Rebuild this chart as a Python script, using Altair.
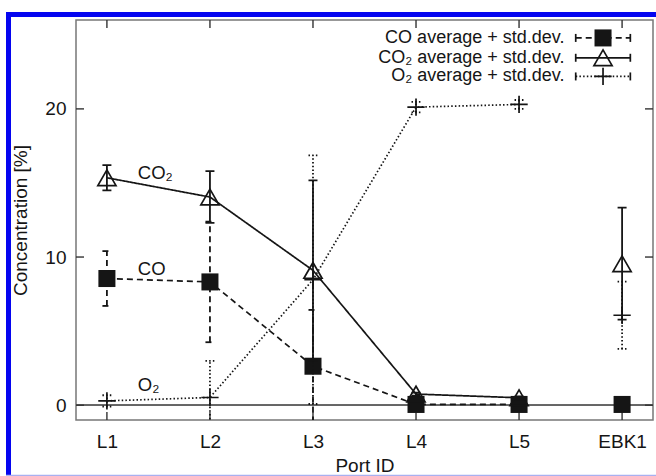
import altair as alt
import pandas as pd

# ---------------- data ----------------
ports = ["L1", "L2", "L3", "L4", "L5", "EBK1"]
pos = [1, 2, 3, 4, 5, 6]
co_mean = [8.55, 8.32, 2.63, 0.05, 0.05, 0.05]
co_std = [1.85, 4.07, 3.8, 0.0, 0.0, 0.0]
co2_mean = [15.35, 14.05, 9.1, 0.75, 0.5, 9.55]
co2_std = [0.85, 1.75, 6.07, 0.1, 0.1, 3.78]
o2_mean = [0.29, 0.52, 8.47, 20.12, 20.3, 6.07]
o2_std = [0.38, 2.47, 8.39, 0.35, 0.3, 2.27]
connected_ports = ["L1", "L2", "L3", "L4", "L5"]

series_names = ["CO", "CO2", "O2"]
legend_labels = ["CO average + std.dev.", "CO\u2082 average + std.dev.", "O\u2082 average + std.dev."]
annot_text = ["CO\u2082", "CO", "O\u2082"]
annot_x = [1.30, 1.30, 1.30]
annot_y = [15.7, 9.17, 1.37]
legend_rows = [24.79, 23.45, 22.19]

y_ticks = [0, 10, 20]
x_domain = [0.7, 6.3]
y_domain = [-1, 26]

FONT = "Liberation Sans"
INK = "#151515"

means = {"CO": co_mean, "CO2": co2_mean, "O2": o2_mean}
stds = {"CO": co_std, "CO2": co2_std, "O2": o2_std}
dashes = {"CO": [6, 4], "CO2": [1, 0], "O2": [1.5, 2.2]}

xs = alt.Scale(domain=x_domain, nice=False, zero=False)
ys = alt.Scale(domain=y_domain, nice=False, zero=False)

label_expr = "[" + ",".join("'%s'" % p for p in ports) + "][datum.value-1]"

X_AXIS = alt.Axis(values=pos, labelExpr=label_expr, tickSize=0, domain=False,
                  grid=False, labelFontSize=19, labelFont=FONT, labelColor=INK,
                  labelPadding=12, titleFont=FONT, titleFontSize=19,
                  titleFontWeight="normal", titleColor=INK, titlePadding=5)
Y_AXIS = alt.Axis(values=y_ticks, tickSize=0, domain=False, grid=False,
                  labelFontSize=19, labelFont=FONT, labelColor=INK, labelPadding=10,
                  titleFont=FONT, titleFontSize=19, titleFontWeight="normal",
                  titleColor=INK, titlePadding=14)


def X(field):
    return alt.X(field, scale=xs, axis=X_AXIS, title="Port ID")


def Y(field):
    return alt.Y(field, scale=ys, axis=Y_AXIS, title="Concentration [%]")


base_df = pd.DataFrame({"pos": pos, "val": [0] * len(pos)})

layers = []

# axes carrier (invisible)
layers.append(alt.Chart(base_df).mark_point(opacity=0).encode(x=X("pos:Q"), y=Y("val:Q")))

# zero line
layers.append(alt.Chart(base_df).mark_rule(color="#666", strokeWidth=1.3).encode(
    y=Y("val:Q")))

# inward ticks
tx = pd.DataFrame({"pos": pos, "b": [y_domain[0]] * len(pos), "t": [y_domain[1]] * len(pos)})
ty = pd.DataFrame({"v": y_ticks, "l": [x_domain[0]] * len(y_ticks), "r": [x_domain[1]] * len(y_ticks)})
tick_style = dict(color="#333", strokeWidth=1.4)
layers.append(alt.Chart(tx).mark_rule(y2Offset=-8, **tick_style).encode(
    x=X("pos:Q"), y=Y("b:Q"), y2="b:Q"))
layers.append(alt.Chart(tx).mark_rule(y2Offset=8, **tick_style).encode(
    x=X("pos:Q"), y=Y("t:Q"), y2="t:Q"))
layers.append(alt.Chart(ty).mark_rule(x2Offset=8, **tick_style).encode(
    y=Y("v:Q"), x=X("l:Q"), x2="l:Q"))
layers.append(alt.Chart(ty).mark_rule(x2Offset=-8, **tick_style).encode(
    y=Y("v:Q"), x=X("r:Q"), x2="r:Q"))

marker_marks = {
    "CO": dict(shape="square", filled=True, size=290, color=INK, opacity=1),
    "CO2": dict(shape="triangle-up", filled=False, size=330, color=INK, strokeWidth=1.7, opacity=1),
    "O2": dict(shape="M-1,0H1M0,-1V1", filled=False, size=300, color=INK, strokeWidth=1.7, opacity=1),
}

for i, s in enumerate(series_names):
    df = pd.DataFrame({"port": ports, "pos": pos, "mean": means[s], "std": stds[s]})
    df["lo"] = df["mean"] - df["std"]
    df["hi"] = df["mean"] + df["std"]
    line_df = df[df["port"].isin(connected_ports)]
    d = dashes[s]
    # line
    layers.append(alt.Chart(line_df).mark_line(color=INK, strokeWidth=1.7, strokeDash=d, clip=True).encode(
        x=X("pos:Q"), y=Y("mean:Q")))
    # error bars
    layers.append(alt.Chart(df).mark_rule(color=INK, strokeWidth=1.8, strokeDash=d, clip=True).encode(
        x=X("pos:Q"), y=Y("lo:Q"), y2="hi:Q"))
    # caps
    for f in ["lo", "hi"]:
        layers.append(alt.Chart(df).mark_rule(color=INK, strokeWidth=1.8, strokeDash=d, clip=True,
                                              xOffset=-4.5, x2Offset=4.5).encode(
            x=X("pos:Q"), x2="pos:Q", y=Y(f + ":Q")))
    # markers
    layers.append(alt.Chart(df).mark_point(**marker_marks[s]).encode(
        x=X("pos:Q"), y=Y("mean:Q")))

    # legend entry
    leg = pd.DataFrame({"row": [legend_rows[i]], "x0": [5.55], "x1": [6.08], "xm": [5.815],
                        "tx": [5.44], "label": [legend_labels[i]]})
    layers.append(alt.Chart(leg).mark_rule(color=INK, strokeWidth=1.7, strokeDash=d).encode(
        x=X("x0:Q"), x2="x1:Q", y=Y("row:Q")))
    for f in ["x0", "x1"]:
        layers.append(alt.Chart(leg).mark_rule(color=INK, strokeWidth=1.7, yOffset=-4, y2Offset=4).encode(
            x=X(f + ":Q"), y=Y("row:Q"), y2="row:Q"))
    layers.append(alt.Chart(leg).mark_point(**marker_marks[s]).encode(
        x=X("xm:Q"), y=Y("row:Q")))
    layers.append(alt.Chart(leg).mark_text(align="right", baseline="middle", font=FONT,
                                           fontSize=18, color=INK).encode(
        x=X("tx:Q"), y=Y("row:Q"), text="label:N"))

# in-plot annotations
ann = pd.DataFrame({"x": annot_x, "y": annot_y, "t": annot_text})
layers.append(alt.Chart(ann).mark_text(align="left", baseline="middle", font=FONT, fontSize=18.5,
                                       color=INK).encode(
    x=X("x:Q"), y=Y("y:Q"), text="t:N"))

# decorative blue frame
one = pd.DataFrame({"a": [0]})
layers.append(alt.Chart(one).mark_rule(color="#0505f0", strokeWidth=5, clip=False).encode(
    x=alt.value(-70), x2=alt.value(600), y=alt.value(-5.5)))
layers.append(alt.Chart(one).mark_rule(color="#0505f0", strokeWidth=5, clip=False).encode(
    x=alt.value(-67.5), y=alt.value(-8), y2=alt.value(470)))
layers.append(alt.Chart(one).mark_rule(color="#a8b0f0", strokeWidth=1.2, clip=False).encode(
    x=alt.value(-70), x2=alt.value(600), y=alt.value(455.4)))

chart = alt.layer(*layers).properties(
    width=577, height=400,
    padding={"left": 76, "top": 20, "right": 3, "bottom": 56},
    autosize=alt.AutoSizeParams(type="none"),
    background="white",
).configure_view(stroke="#777", strokeWidth=1.5)

chart.save("out.html", embed_options={"renderer": "svg", "actions": False})
